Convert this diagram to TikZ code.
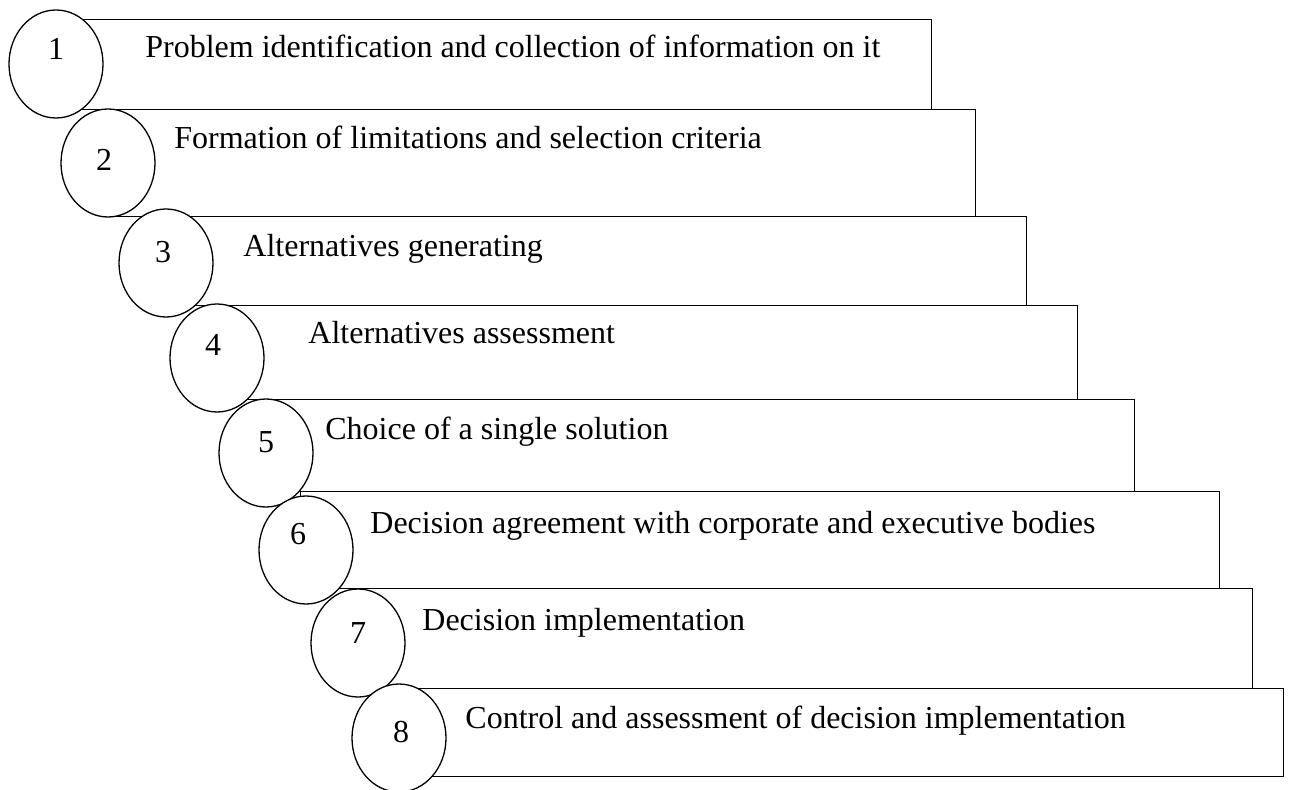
\documentclass[tikz,border=0pt]{standalone}
\usepackage{fontspec}
\setmainfont{Liberation Serif}
\usetikzlibrary{shapes.geometric}
\usetikzlibrary{positioning}

\begin{document}
\begin{tikzpicture}[x=0.5pt, y=-0.5pt,
			stagebox/.style={draw, line width=0.65pt, rectangle, anchor=north west, inner sep=0pt},
			oval/.style={draw, line width=0.65pt, ellipse, fill=white, minimum width=47pt, minimum height=54pt, inner sep=0pt},
			num/.style={anchor=base, inner sep=0pt, font=\fontsize{16pt}{19pt}\selectfont},
			stagetext/.style={anchor=base west, inner sep=0pt, font=\fontsize{16pt}{19pt}\selectfont}]
			\useasboundingbox (0,0) rectangle (1289,790);
			
			\node[stagebox, minimum width=437.5pt, minimum height=45pt](stage1) at (56, 19) {};
			\node[stagebox, minimum width=433.5pt, minimum height=53.5pt](stage2) at (108, 109) {};
			\node[stagebox, minimum width=430pt, minimum height=44.5pt](stage3) at (166, 216) {};
			\node[stagebox, minimum width=430pt, minimum height=47pt](stage4) at (217, 305) {};
			\node[stagebox, minimum width=434pt, minimum height=46pt](stage5) at (266, 399) {};
			\node[stagebox, minimum width=459.5pt, minimum height=48.5pt](stage6) at (300, 491) {};
			\node[stagebox, minimum width=447pt, minimum height=50pt](stage7) at (358, 588) {};
			\node[stagebox, minimum width=442pt, minimum height=44pt](stage8) at (399, 688) {};
			
			\node[oval](oval1) at (56, 64) {};
			\node[oval](oval2) at (108, 163) {};
			\node[oval](oval3) at (166, 263) {};
			\node[oval](oval4) at (217, 358) {};
			\node[oval](oval5) at (266, 453) {};
			\node[oval](oval6) at (306, 550) {};
			\node[oval](oval7) at (358, 643) {};
			\node[oval](oval8) at (399, 738) {};
			
			\node[num](num1) at (56, 60) {1};
			\node[num](num2) at (104, 171) {2};
			\node[num](num3) at (163, 263) {3};
			\node[num](num4) at (213, 356) {4};
			\node[num](num5) at (266, 452) {5};
			\node[num](num6) at (298, 545) {6};
			\node[num](num7) at (358, 643) {7};
			\node[num](num8) at (401, 742) {8};
			
			\node[stagetext](text1) at (145, 58) {Problem identification and collection of information on it};
			\node[stagetext](text2) at (174, 149) {Formation of limitations and selection criteria};
			\node[stagetext](text3) at (243, 257) {Alternatives generating};
			\node[stagetext](text4) at (308, 344) {Alternatives assessment};
			\node[stagetext](text5) at (325, 440) {Choice of a single solution};
			\node[stagetext](text6) at (370, 533) {Decision agreement with corporate and executive bodies};
			\node[stagetext](text7) at (422, 630) {Decision implementation};
			\node[stagetext](text8) at (465, 728) {Control and assessment of decision implementation};
			\end{tikzpicture}
\end{document}
